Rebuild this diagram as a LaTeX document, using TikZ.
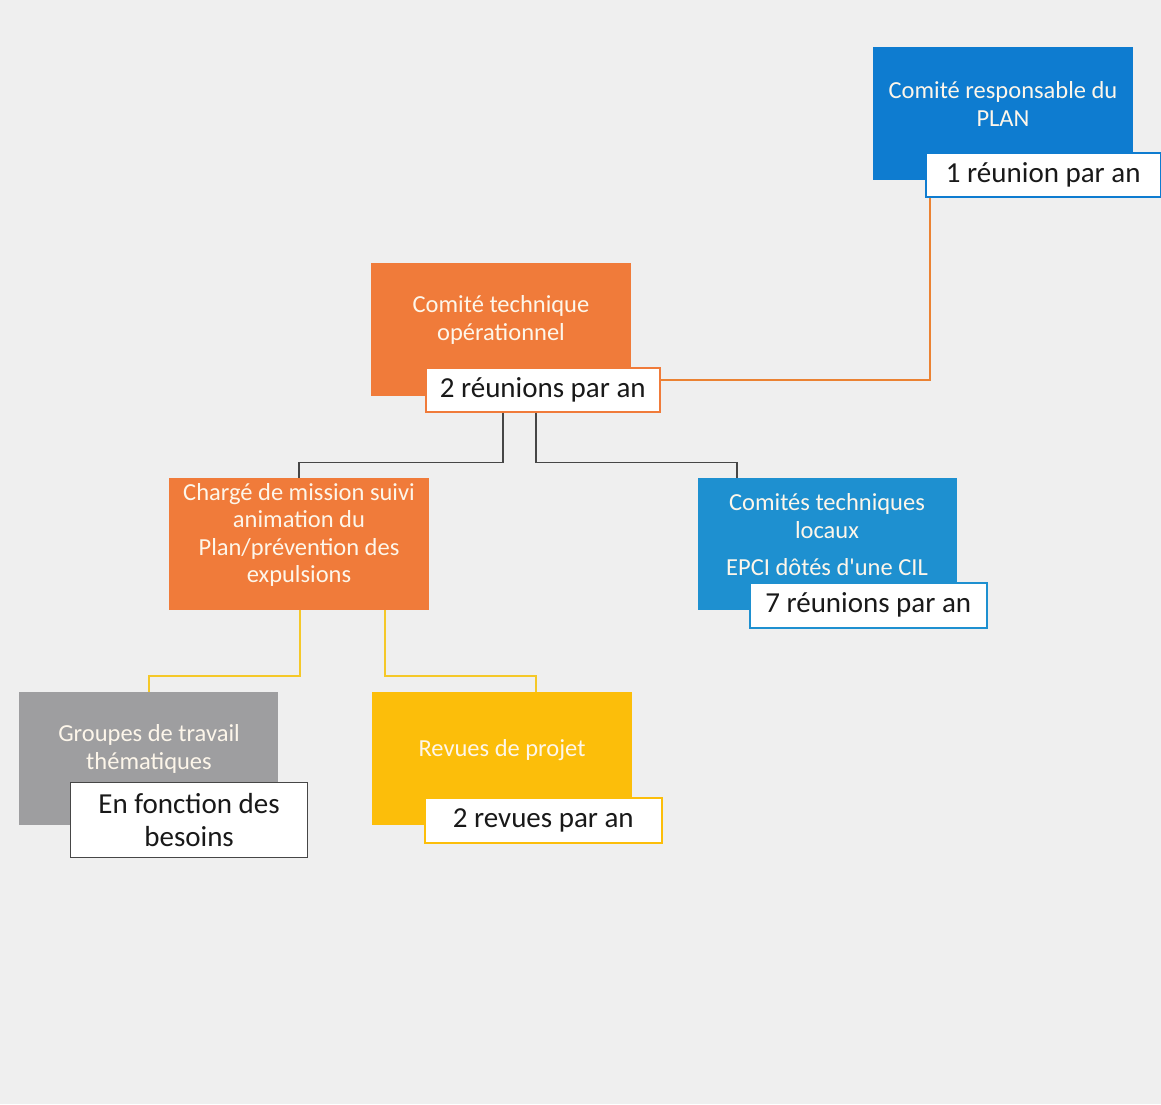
\documentclass[tikz,border=0pt]{standalone}
\usepackage{fontspec}
\setmainfont{Carlito}[Ligatures=TeXOff]
\definecolor{bgray}{RGB}{239,239,239}
\definecolor{cblue}{RGB}{14,124,208}
\definecolor{cblueb}{RGB}{30,144,208}
\definecolor{corange}{RGB}{240,123,58}
\definecolor{cgray}{RGB}{158,158,160}
\definecolor{cyellow}{RGB}{252,190,10}
\definecolor{ctext}{RGB}{253,246,234}
\definecolor{cline}{RGB}{70,70,70}
\definecolor{olink}{RGB}{235,130,50}
\definecolor{ylink}{RGB}{245,200,40}
\begin{document}
\begin{tikzpicture}[x=1pt,y=-1pt,
  box/.style={fill=#1, draw=none, minimum width=260pt, minimum height=133pt, inner sep=0pt, anchor=north west},
  btext/.style={text=ctext, align=center, font=\fontsize{24.5}{27.5}\selectfont, inner sep=0pt},
  lab/.style={fill=white, draw=#1, line width=1.5pt, inner sep=0pt, anchor=north west, minimum height=44pt, text=black!90, font=\fontsize{29}{33}\selectfont, align=center},
  blink/.style={draw=cline, line width=1.5pt},
  olinkst/.style={draw=olink, line width=2pt},
  ylinkst/.style={draw=ylink, line width=2pt}
]
\fill[bgray] (0,0) rectangle (1161,1104);
\useasboundingbox (0,0) rectangle (1161,1104);

% Top box
\node[box=cblue] (b1) at (873,47) {};
\node[btext] (t1) at (1003,104) {Comité responsable du\\PLAN};
\node[lab=cblue, minimum width=235pt] (l1) at (925,152) {1 réunion par an};

% Comité technique opérationnel
\node[box=corange] (b2) at (371,263) {};
\node[btext] (t2) at (501,320) {Comité technique\\opérationnel};
\node[lab=corange, minimum width=234pt] (l2) at (425,367) {2 réunions par an};

% Chargé de mission
\node[box=corange, minimum height=132pt] (b5) at (169,478) {};
\node[btext] (t5) at (299,535) {Chargé de mission suivi\\animation du\\Plan/prévention des\\expulsions};

% Comités techniques locaux
\node[box=cblueb, minimum width=259pt, minimum height=132pt] (b6) at (698,478) {};
\node[btext] (t6) at (827,516) {Comités techniques\\locaux};
\node[btext] (t6b) at (827,567) {EPCI dôtés d'une CIL};
\node[lab=cblueb, minimum width=237pt, minimum height=45pt] (l6) at (749,582) {7 réunions par an};

% Groupes de travail
\node[box=cgray, minimum width=259pt] (b8) at (19,692) {};
\node[btext] (t8) at (149,749) {Groupes de travail\\thématiques};
\node[lab=cline, minimum width=237pt, minimum height=75pt, line width=1.2pt] (l8) at (70,782) {En fonction des\\besoins};

% Revues de projet
\node[box=cyellow] (b9) at (372,692) {};
\node[btext] (t9) at (502,750) {Revues de projet};
\node[lab=cyellow, minimum width=237pt, minimum height=45pt] (l9) at (424,797) {2 revues par an};

% Connectors
\draw[olinkst] ([xshift=5pt]l1.south west) |- ([yshift=10pt]l2.east);
\draw[blink] ([xshift=-40pt]l2.south) -- ++(0,50) -| (b5.north);
\draw[blink] ([xshift=-7pt]l2.south) -- ++(0,50) -| ([xshift=39pt]b6.north west);
\draw[ylinkst] ([xshift=1pt]b5.south) -- ++(0,66) -| (b8.north);
\draw[ylinkst] ([xshift=86pt]b5.south) -- ++(0,66) -| ([xshift=34pt]b9.north);
\end{tikzpicture}
\end{document}
